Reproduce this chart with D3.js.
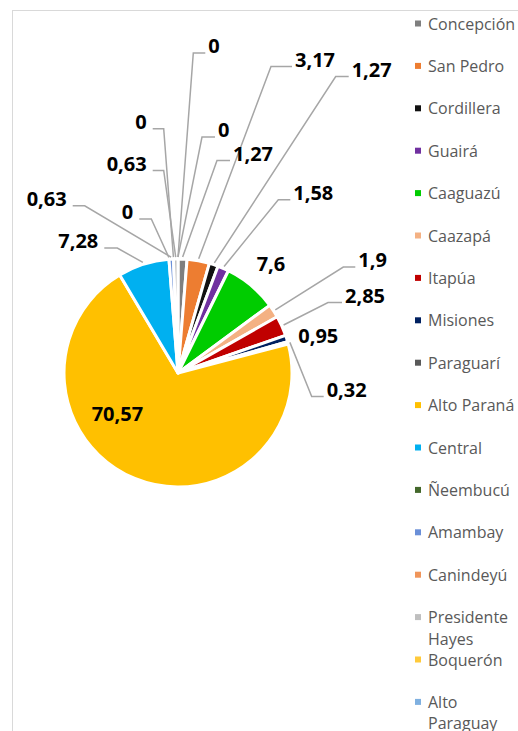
<!DOCTYPE html>
<html>
<head>
<meta charset="utf-8">
<script src="https://cdn.jsdelivr.net/npm/d3@7"></script>
<style>
  html, body { margin: 0; padding: 0; background: #fff; }
  svg { display: block; }
</style>
</head>
<body>
<svg id="chart" width="518" height="731"></svg>
<script>
// ---- data ----
const categories = ["Concepción","San Pedro","Cordillera","Guairá","Caaguazú","Caazapá","Itapúa","Misiones","Paraguarí","Alto Paraná","Central","Ñeembucú","Amambay","Canindeyú","Presidente Hayes","Boquerón","Alto Paraguay"];
const values = [1.27, 3.17, 1.27, 1.58, 7.6, 1.9, 2.85, 0.95, 0.32, 70.57, 7.28, 0, 0.63, 0, 0.63, 0, 0];
const colors = ["#7f7f7f","#ed7d31","#111111","#7030a0","#00cc00","#f4b183","#c00000","#002060","#595959","#ffc000","#00b0f0","#43682b","#6a8fd8","#f0955a","#bfbfbf","#ffca3a","#7fb0e0"];

// ---- layout (label placement as in the original, not data) ----
// [x, baseline, side, leader, horizontal leader length]
const labelLayout = [
  [233, 160.5, "R", true, 13],
  [295, 66.5, "R", true, 21],
  [351.7, 76.5, "R", true, 13],
  [293.3, 199.7, "R", true, 12],
  [256.7, 271, "R", false, 0],
  [358.3, 267, "R", true, 12],
  [345, 302.5, "R", true, 14],
  [298.3, 342.8, "R", false, 0],
  [326.7, 396.5, "R", true, 12],
  [91.7, 421, "R", false, 0],
  [98.3, 248, "L", true, 13],
  [133.3, 219, "L", true, 12],
  [66.7, 205.8, "L", true, 12],
  [146.7, 128.8, "L", true, 11],
  [146.7, 170.5, "L", true, 11],
  [208.3, 53, "R", true, 12],
  [218, 137, "R", true, 13]
];

const svg = d3.select("#chart");

// chart frame
svg.append("rect")
  .attr("x", 12.5).attr("y", 10.5)
  .attr("width", 700).attr("height", 900)
  .attr("fill", "none").attr("stroke", "#d9d9d9").attr("stroke-width", 1);

const cx = 178, cy = 373, R = 114;
const data = categories.map((c, i) => ({ name: c, value: values[i], color: colors[i], layout: labelLayout[i] }));

const pie = d3.pie().sort(null).value(d => d.value).startAngle(0).endAngle(2 * Math.PI);
const arcs = pie(data);
const arc = d3.arc().innerRadius(0).outerRadius(R);

const g = svg.append("g").attr("transform", `translate(${cx},${cy})`);
g.selectAll("path.slice")
  .data(arcs.filter(a => a.data.value > 0))
  .join("path")
  .attr("class", "slice")
  .attr("d", arc)
  .attr("fill", d => d.data.color)
  .attr("stroke", "#fff")
  .attr("stroke-width", 3)
  .attr("stroke-linejoin", "round");

// leader lines
const fmt = v => String(v).replace(".", ",");
const leaders = svg.append("g");
arcs.forEach(a => {
  const [lx, ly, side, hasLeader, hl] = a.data.layout;
  if (!hasLeader) return;
  const mid = (a.startAngle + a.endAngle) / 2;
  const pr = R + 2;
  const px = cx + pr * Math.sin(mid), py = cy - pr * Math.cos(mid);
  let pts;
  if (side === "R") {
    const x2 = lx - 3, x1 = x2 - hl;
    pts = [[x2, ly], [x1, ly], [px, py]];
  } else {
    const x1 = lx + 6, x2 = x1 + hl;
    pts = [[x1, ly], [x2, ly], [px, py]];
  }
  leaders.append("path")
    .attr("d", d3.line()(pts))
    .attr("fill", "none")
    .attr("stroke", "#a6a6a6")
    .attr("stroke-width", 1.5);
});

// labels
svg.append("g").selectAll("text")
  .data(arcs)
  .join("text")
  .attr("x", d => d.data.layout[0])
  .attr("y", d => d.data.layout[1])
  .attr("text-anchor", d => d.data.layout[2] === "R" ? "start" : "end")
  .attr("font-family", "'Open Sans', sans-serif")
  .attr("font-weight", "bold")
  .attr("font-size", 20)
  .attr("fill", "#000")
  .text(d => fmt(d.data.value));

// legend
const legend = svg.append("g");
const ly0 = 23.5, lstep = 42.4;
data.forEach((d, i) => {
  const y = ly0 + i * lstep;
  legend.append("rect")
    .attr("x", 415).attr("y", y - 3)
    .attr("width", 6).attr("height", 6)
    .attr("fill", d.color);
  const words = d.name === "Presidente Hayes" ? ["Presidente", "Hayes"]
              : d.name === "Alto Paraguay" ? ["Alto", "Paraguay"] : [d.name];
  const t = legend.append("text")
    .attr("x", 428).attr("y", y + 6)
    .attr("font-family", "'Open Sans', sans-serif")
    .attr("font-size", 16)
    .attr("fill", "#595959");
  words.forEach((w, k) => {
    t.append("tspan").attr("x", 428).attr("dy", k === 0 ? 0 : 21.5).text(w);
  });
});
</script>
</body>
</html>
